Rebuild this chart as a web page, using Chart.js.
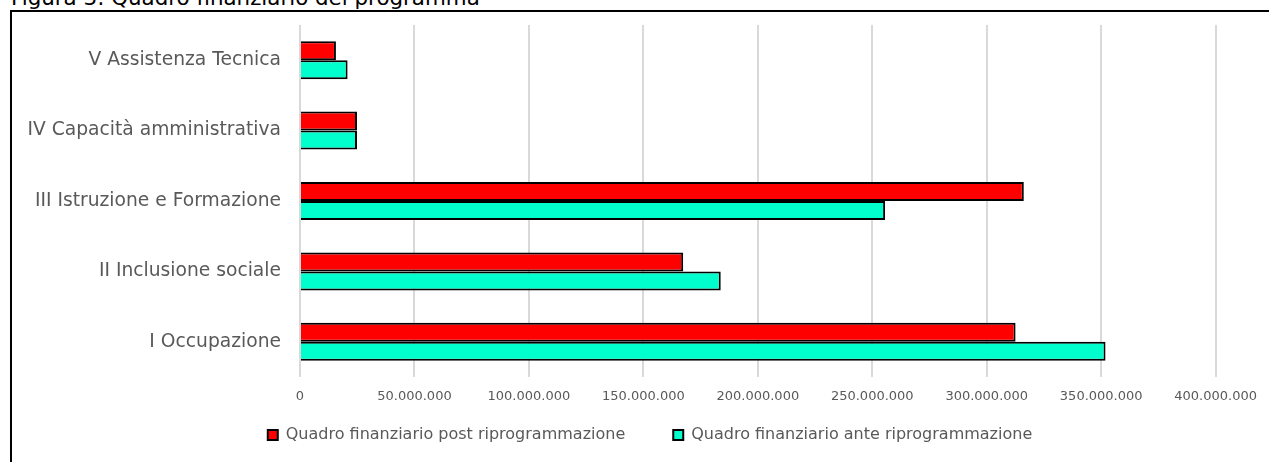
<!DOCTYPE html>
<html>
<head>
<meta charset="utf-8">
<script src="https://cdn.jsdelivr.net/npm/chart.js@4.4.0/dist/chart.umd.min.js"></script>
<style>
  html, body { margin: 0; padding: 0; background: #fff; overflow: hidden; }
  body { width: 1269px; height: 462px; position: relative; }
  #title {
    position: absolute; left: 11px; top: -13px;
    font: 21.4px "DejaVu Sans", Verdana, sans-serif; line-height: 21.4px;
    color: #000; white-space: nowrap;
  }
  #frame {
    position: absolute; left: 10px; top: 10px; width: 1300px; height: 500px;
    border-left: 2px solid #000; border-top: 2px solid #000;
  }
  #wrap { position: absolute; left: 0; top: 0; width: 1269px; height: 462px; }
</style>
</head>
<body>
<div id="title">Figura 3: Quadro finanziario del programma</div>
<div id="frame"></div>
<div id="wrap"><canvas id="chart"></canvas></div>
<script>
const categories = [
    'V Assistenza Tecnica',
    'IV Capacità amministrativa',
    'III Istruzione e Formazione',
    'II Inclusione sociale',
    'I Occupazione'
];
const postValues = [15700000, 24900000, 316200000, 167400000, 312600000];
const anteValues = [20800000, 24900000, 255600000, 183800000, 351900000];
const xTicks = [0, 50000000, 100000000, 150000000, 200000000, 250000000, 300000000, 350000000, 400000000];

const fontFamily = '"DejaVu Sans", Verdana, sans-serif';

function formatNum(v) {
    return String(v).replace(/\B(?=(\d{3})+(?!\d))/g, '.');
}

// legend sits a bit higher and right of where chart.js centres it
const legendNudge = {
    id: 'legendNudge',
    afterLayout(chart) {
        const lg = chart.legend;
        lg.left += 84;
        lg.top -= 28;
        lg.bottom = chart.height;
    }
};

const ctx = document.getElementById('chart').getContext('2d');
const chart = new Chart(ctx, {
    type: 'bar',
    data: {
        labels: categories,
        datasets: [
            {
                label: 'Quadro finanziario post riprogrammazione',
                data: postValues,
                backgroundColor: '#ff0000',
                borderColor: '#000000',
                borderWidth: 2
            },
            {
                label: 'Quadro finanziario ante riprogrammazione',
                data: anteValues,
                backgroundColor: '#00ffcc',
                borderColor: '#000000',
                borderWidth: 2
            }
        ]
    },
    options: {
        indexAxis: 'y',
        responsive: true,
        maintainAspectRatio: false,
        animation: false,
        layout: { padding: { top: 25, right: 53, left: 0, bottom: 15 } },
        datasets: {
            bar: { categoryPercentage: 0.54, barPercentage: 1.0 }
        },
        scales: {
            x: {
                min: 0,
                max: 400000000,
                afterBuildTicks: (scale) => {
                    scale.ticks = xTicks.map(v => ({ value: v }));
                },
                afterFit: (scale) => { scale.height = 30; },
                border: { display: false },
                grid: { color: '#d9d9d9', lineWidth: 2, drawTicks: false },
                ticks: {
                    color: '#595959',
                    padding: 12,
                    maxRotation: 0,
                    font: { family: fontFamily, size: 13 },
                    callback: (v) => formatNum(v)
                }
            },
            y: {
                afterFit: (scale) => {
                    scale.width = 300;
                    scale.paddingTop = 0;
                    scale.paddingBottom = 0;
                },
                border: { display: false },
                grid: { display: false, drawTicks: false },
                ticks: {
                    color: '#595959',
                    padding: 19,
                    font: { family: fontFamily, size: 18.7 }
                }
            }
        },
        plugins: {
            legend: {
                position: 'bottom',
                maxHeight: 40,
                labels: {
                    color: '#595959',
                    boxWidth: 10,
                    boxHeight: 10,
                    padding: 48,
                    font: { family: fontFamily, size: 16 }
                }
            },
            tooltip: { enabled: false }
        }
    },
    plugins: [legendNudge]
});
</script>
</body>
</html>
